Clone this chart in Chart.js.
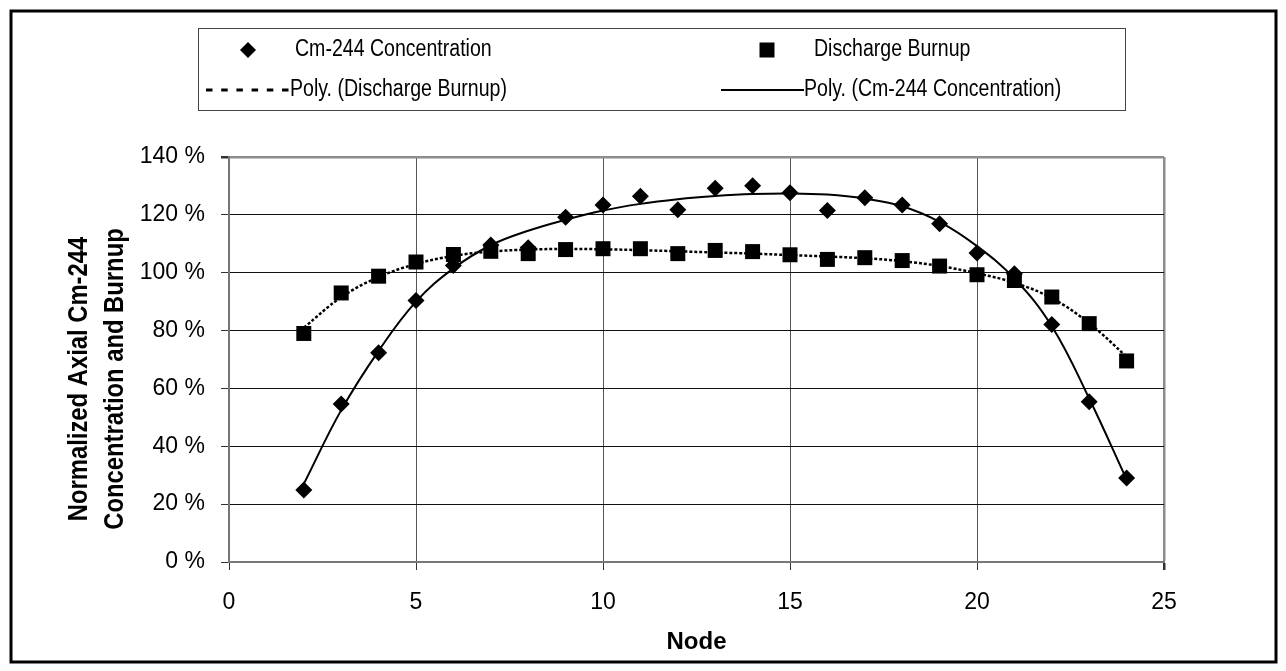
<!DOCTYPE html>
<html>
<head>
<meta charset="utf-8">
<script src="https://cdn.jsdelivr.net/npm/chart.js@4.4.1/dist/chart.umd.min.js"></script>
<style>
  html, body { margin: 0; padding: 0; background: #ffffff; }
  #wrap { width: 1286px; height: 671px; position: relative; }
</style>
</head>
<body>
<div id="wrap"><canvas id="c" width="1286" height="671"></canvas></div>
<script>
// Axial nodes
const nodes = [2, 3, 4, 5, 6, 7, 8, 9, 10, 11, 12, 13, 14, 15, 16, 17, 18, 19, 20, 21, 22, 23, 24];

// Normalized Cm-244 concentration (%)
const cmConcentration = [24.9, 54.6, 72.3, 90.4, 102.5, 109.6, 108.6, 119.2, 123.4, 126.4, 121.8,
                         129.2, 130.1, 127.6, 121.5, 125.9, 123.4, 116.9, 106.8, 99.6, 82.1, 55.4, 29.0];

// Normalized discharge burnup (%)
const dischargeBurnup = [79.0, 93.0, 98.8, 103.7, 106.3, 107.4, 106.6, 108.0, 108.3, 108.3, 106.6,
                         107.7, 107.3, 106.2, 104.6, 105.2, 104.2, 102.3, 99.3, 97.3, 91.6, 82.4, 69.5];

// Polynomial trend of the discharge burnup (%)
const polyBurnup = [81.0, 91.5, 98.5, 103.0, 105.8, 107.3, 108.0, 108.2, 108.1, 107.8, 107.4,
                    107.0, 106.6, 106.1, 105.6, 105.0, 104.0, 102.3, 99.8, 96.5, 91.2, 82.5, 71.0];

// Polynomial trend of the Cm-244 concentration (%)
const polyCm = [27.0, 52.5, 73.0, 90.0, 101.5, 109.5, 114.5, 118.3, 121.5, 123.8, 125.4,
                126.5, 127.2, 127.4, 127.0, 125.6, 123.0, 117.6, 109.2, 98.0, 81.5, 56.5, 28.5];

// Axis ticks
const xTicks = [0, 5, 10, 15, 20, 25];
const yTicks = [0, 20, 40, 60, 80, 100, 120, 140];

const legendLabels = ['Cm-244 Concentration', 'Discharge Burnup',
                      'Poly. (Discharge Burnup)', 'Poly. (Cm-244 Concentration)'];
const xTitle = 'Node';
const yTitle = ['Normalized Axial Cm-244', 'Concentration and Burnup'];

const FONT = '"Liberation Sans", Arial, sans-serif';
const NARROW = 0.85;   // horizontal squeeze for the condensed captions

const pts = (xs, ys) => xs.map((x, i) => ({ x: x, y: ys[i] }));

function narrowText(ctx, text, x, y) {
  ctx.save();
  ctx.translate(x, y);
  ctx.scale(NARROW, 1);
  ctx.fillText(text, 0, 0);
  ctx.restore();
}

// Outer frame, legend block and rotated value-axis title
const decor = {
  id: 'decor',
  afterDraw(chart) {
    const ctx = chart.ctx;
    ctx.save();

    // outer frame
    ctx.strokeStyle = '#000';
    ctx.lineWidth = 3;
    ctx.strokeRect(11, 11, 1265, 651);

    // legend box
    ctx.lineWidth = 1;
    ctx.strokeStyle = '#444';
    ctx.strokeRect(198.5, 28.5, 927, 82);

    ctx.fillStyle = '#000';
    ctx.font = '23px ' + FONT;
    ctx.textBaseline = 'middle';
    ctx.textAlign = 'left';

    const r1 = 50, r2 = 90;
    // diamond
    ctx.beginPath();
    ctx.moveTo(248, r1 - 8); ctx.lineTo(256, r1); ctx.lineTo(248, r1 + 8); ctx.lineTo(240, r1);
    ctx.closePath(); ctx.fill();
    narrowText(ctx, legendLabels[0], 295, r1);

    // square
    ctx.fillRect(767 - 7.5, r1 - 7.5, 15, 15);
    narrowText(ctx, legendLabels[1], 814, r1);

    // dotted line
    ctx.strokeStyle = '#000';
    ctx.lineWidth = 3;
    ctx.setLineDash([6.5, 8.7]);
    ctx.beginPath(); ctx.moveTo(206, r2); ctx.lineTo(289, r2); ctx.stroke();
    ctx.setLineDash([]);
    narrowText(ctx, legendLabels[2], 290, r2);

    // solid line
    ctx.lineWidth = 2;
    ctx.beginPath(); ctx.moveTo(721, r2); ctx.lineTo(804, r2); ctx.stroke();
    narrowText(ctx, legendLabels[3], 804, r2);

    // value-axis title
    ctx.font = 'bold 28px ' + FONT;
    ctx.textAlign = 'center';
    ctx.translate(97, 379);
    ctx.rotate(-Math.PI / 2);
    ctx.scale(NARROW, 1);
    ctx.fillText(yTitle[0], 0, -18);
    ctx.fillText(yTitle[1], 0, 18);
    ctx.restore();
  }
};

new Chart(document.getElementById('c'), {
  type: 'scatter',
  data: {
    datasets: [
      {
        label: legendLabels[0],
        data: pts(nodes, cmConcentration),
        pointStyle: 'rectRot',
        pointRadius: 8.5,
        backgroundColor: '#000',
        borderColor: '#000',
        borderWidth: 0,
        showLine: false
      },
      {
        label: legendLabels[1],
        data: pts(nodes, dischargeBurnup),
        pointStyle: 'rect',
        pointRadius: 10.6,
        backgroundColor: '#000',
        borderColor: '#000',
        borderWidth: 0,
        showLine: false
      },
      {
        label: legendLabels[2],
        data: pts(nodes, polyBurnup),
        showLine: true,
        pointRadius: 0,
        borderColor: '#000',
        borderWidth: 2.5,
        borderDash: [3, 2],
        tension: 0.4,
        fill: false
      },
      {
        label: legendLabels[3],
        data: pts(nodes, polyCm),
        showLine: true,
        pointRadius: 0,
        borderColor: '#000',
        borderWidth: 2,
        tension: 0.4,
        fill: false
      }
    ]
  },
  options: {
    responsive: false,
    animation: false,
    events: [],
    layout: { padding: { left: 0, top: 157, right: 122, bottom: 10 } },
    plugins: {
      legend: { display: false },
      tooltip: { enabled: false }
    },
    scales: {
      x: {
        type: 'linear',
        min: 0,
        max: 25,
        afterBuildTicks: s => { s.ticks = xTicks.map(v => ({ value: v })); },
        afterFit: s => { s.height = 99; },
        ticks: {
          color: '#000',
          font: { family: FONT, size: 23 },
          padding: 19,
          maxRotation: 0
        },
        grid: {
          color: c => (c.tick && c.tick.value === 25) ? '#8c8c8c' : '#555',
          lineWidth: c => (c.tick && c.tick.value === 25) ? 2.5 : 1,
          tickColor: '#333',
          tickLength: 8
        },
        border: { display: true, color: '#777', width: 2 },
        title: {
          display: true,
          text: xTitle,
          color: '#000',
          font: { family: FONT, size: 24, weight: 'bold' },
          padding: { top: 0, bottom: 4 }
        }
      },
      y: {
        min: 0,
        max: 140,
        afterBuildTicks: s => { s.ticks = yTicks.map(v => ({ value: v })); },
        afterFit: s => { s.width = 229; },
        ticks: {
          color: '#000',
          font: { family: FONT, size: 23 },
          padding: 16,
          callback: v => v + ' %'
        },
        grid: {
          color: c => (c.tick && c.tick.value === 140) ? '#8c8c8c' : '#111',
          lineWidth: c => (c.tick && c.tick.value === 140) ? 2.5 : 1,
          tickColor: '#333',
          tickLength: 8
        },
        border: { display: true, color: '#777', width: 2 }
      }
    }
  },
  plugins: [decor]
});
</script>
</body>
</html>
